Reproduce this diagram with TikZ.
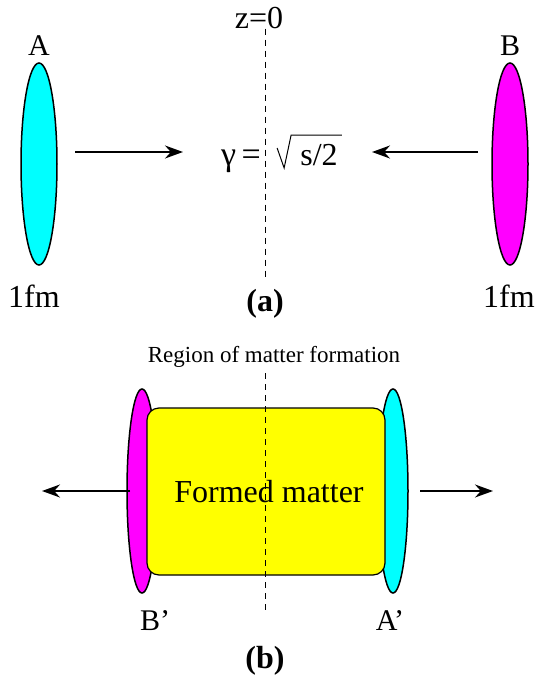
\documentclass[tikz,border=0pt]{standalone}
\usepackage{fontspec}
\setmainfont{Liberation Serif}
\usetikzlibrary{shapes.geometric,arrows.meta}

\definecolor{nucCyan}{RGB}{0,255,255}
\definecolor{nucMagenta}{RGB}{255,0,255}
\definecolor{matterYellow}{RGB}{255,255,0}

\tikzset{
  nucleus/.style={ellipse, draw, line width=1.5pt, inner sep=0pt,
    minimum width=36pt, minimum height=202pt},
  flow/.style={-{Stealth[length=18pt,width=13pt]}, line width=1.5pt},
  axis/.style={dashed, dash pattern=on 6pt off 5pt, line width=0.8pt},
  lbl/.style={anchor=base, inner sep=0pt, font=\fontsize{30}{36}\selectfont},
  big/.style={anchor=base, inner sep=0pt, font=\fontsize{32}{38}\selectfont},
}

\begin{document}
\begin{tikzpicture}[x=1pt,y=-1pt]
  \useasboundingbox (0,0) rectangle (537,680);
  % (a) the two nuclei coming in
  \node[nucleus, fill=nucCyan]    (nucA) at (39,164)  {};
  \node[nucleus, fill=nucMagenta] (nucB) at (510,164) {};
  \node[lbl] (labA) at (39,55)  {A};
  \node[lbl] (labB) at (510,55) {B};
  \node[big] (sizeA) at (34,307)  {1fm};
  \node[big] (sizeB) at (509,307) {1fm};
  \node[lbl, font=\fontsize{32}{38}\selectfont] (zzero) at (259,28) {z=0};
  \coordinate (axisA) at (265,278);
  \draw[axis] (zzero.south -| axisA) -- (axisA);
  % gamma = root of s/2, radical drawn by hand
  \node[big, font=\fontsize{34}{40}\selectfont] (gamma) at (241,165) {γ\,=};
  \node[big] (root) at (319,165) {s/2};
  \draw[line width=1pt]
    ([shift={(-23,-17)}]root.base west) -- ([shift={(-16,3)}]root.base west)
    -- ([shift={(-9,-30)}]root.base west) -- ([shift={(4,-30)}]root.base east);
  \coordinate (inA)  at (75,152);
  \coordinate (endA) at (183,152);
  \coordinate (inB)  at (478,152);
  \coordinate (endB) at (372,152);
  \draw[flow] (inA) -- (endA);
  \draw[flow] (inB) -- (endB);
  \node[big, font=\bfseries\fontsize{32}{38}\selectfont] (capA) at (265,311) {(a)};
  % (b) after the collision
  \node[lbl, font=\fontsize{23}{28}\selectfont] (region) at (274,362) {Region of matter formation};
  \node[nucleus, minimum width=30pt, minimum height=204pt, fill=nucMagenta] (nucBp) at (142,491) {};
  \node[nucleus, minimum width=30pt, minimum height=204pt, fill=nucCyan]    (nucAp) at (393,491) {};
  \node[draw, fill=matterYellow, rounded corners=12pt, line width=1.2pt,
    minimum width=238pt, minimum height=167pt,
    font=\fontsize{32}{38}\selectfont] (matter) at (266,491.5) {\hspace*{6pt}Formed matter};
  \coordinate (axisB) at (265,613);
  \draw[axis] ([yshift=-6pt]region.south -| axisB) -- (axisB);
  \coordinate (inBp)  at (130,491);
  \coordinate (outB)  at (42,491);
  \coordinate (inAp)  at (420,491);
  \coordinate (outA)  at (493,491);
  \draw[flow] (inBp) -- (outB);
  \draw[flow] (inAp) -- (outA);
  \node[big, font=\fontsize{30}{36}\selectfont] (labBp) at (155,630) {B’};
  \node[big, font=\fontsize{30}{36}\selectfont] (labAp) at (390,630) {A’};
  \node[big, font=\bfseries\fontsize{32}{38}\selectfont] (capB) at (265,668) {(b)};
\end{tikzpicture}
\end{document}
